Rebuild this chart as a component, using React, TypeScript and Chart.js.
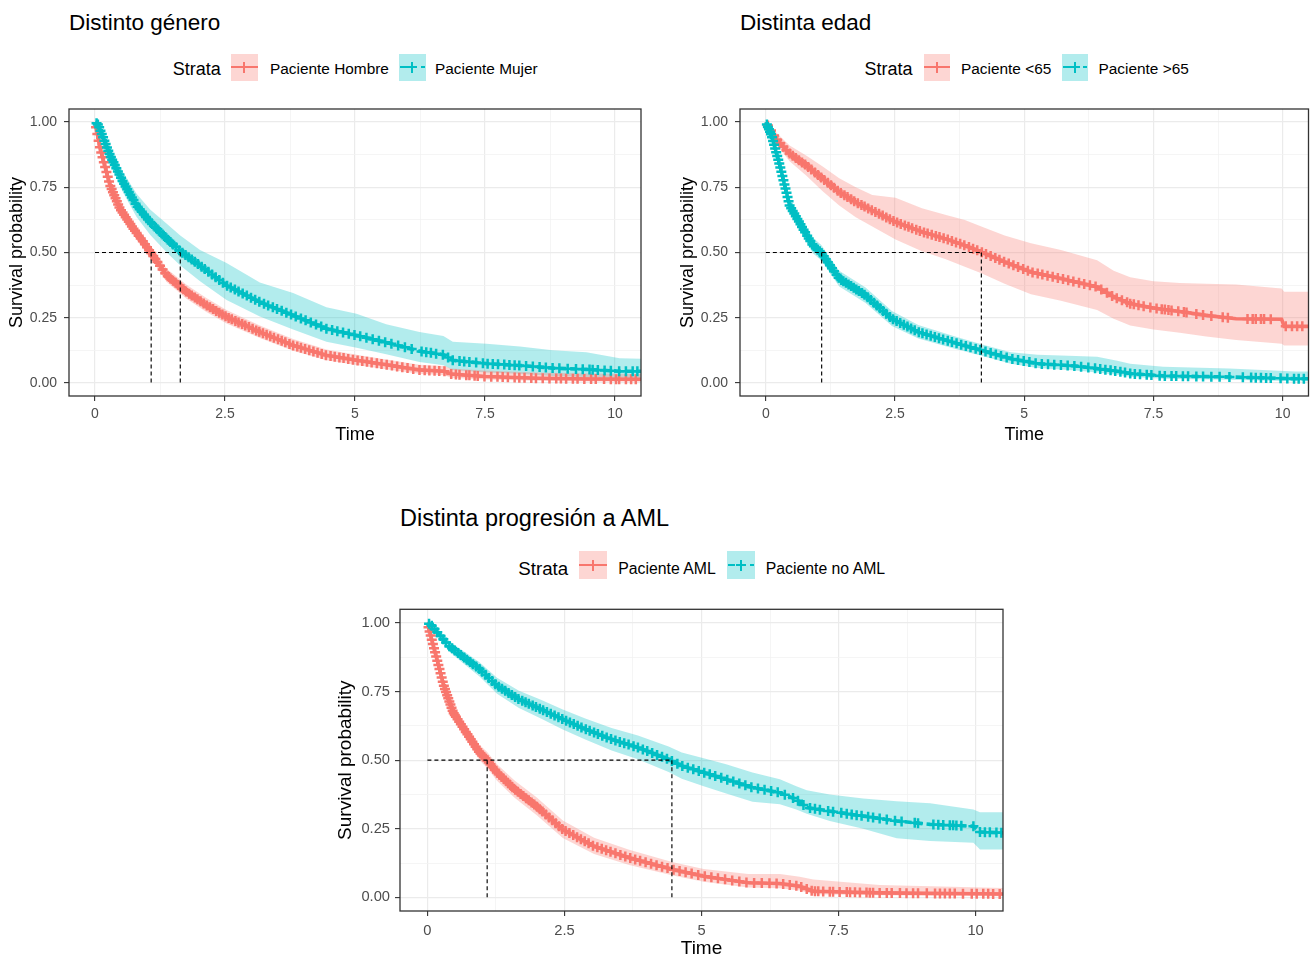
import React, { useEffect, useRef } from 'react';
import { Chart, registerables } from 'chart.js';

Chart.register(...registerables);
Chart.defaults.font.family = '"Liberation Sans", Arial, sans-serif';

const RED = '#F8766D';
const TEAL = '#00BFC4';
const RED_FILL = 'rgba(248,118,109,0.3)';
const TEAL_FILL = 'rgba(0,191,196,0.3)';
const FONT = '"Liberation Sans", Arial, sans-serif';

// ---------- axis ticks ----------
const xTickValues = [0, 1.25, 2.5, 3.75, 5, 6.25, 7.5, 8.75, 10];
const xMajorValues = [0, 2.5, 5, 7.5, 10];
const yTickValues = [0, 0.125, 0.25, 0.375, 0.5, 0.625, 0.75, 0.875, 1];
const yMajorValues = [0, 0.25, 0.5, 0.75, 1];
const xRange = [-0.5, 10.5];
const yRange = [-0.05, 1.05];
const medianLevel = 0.5;

// ---------- Chart 1: Distinto género ----------
const c1RedT = [0, 0.1, 0.29, 0.48, 0.74, 0.93, 1.09, 1.38, 1.76, 2.15, 2.53, 3.17, 3.81, 4.45, 5.03, 5.6, 6.24, 6.72, 6.85, 7.5, 8.5, 9.5, 10.5];
const c1RedS = [1, 0.898, 0.757, 0.668, 0.591, 0.54, 0.495, 0.412, 0.349, 0.297, 0.253, 0.195, 0.144, 0.106, 0.087, 0.07, 0.05, 0.045, 0.034, 0.025, 0.018, 0.015, 0.014];
const c1RedLo = [1, 0.886, 0.74, 0.648, 0.569, 0.517, 0.471, 0.387, 0.323, 0.271, 0.228, 0.172, 0.123, 0.087, 0.069, 0.053, 0.035, 0.03, 0.02, 0.013, 0.008, 0.006, 0.005];
const c1RedHi = [1, 0.91, 0.775, 0.688, 0.613, 0.563, 0.52, 0.438, 0.376, 0.325, 0.28, 0.22, 0.168, 0.128, 0.108, 0.09, 0.07, 0.065, 0.055, 0.048, 0.04, 0.036, 0.034];
const c1RedCens = [0.02, 0.045, 0.07, 0.095, 0.12, 0.145, 0.17, 0.195, 0.22, 0.245, 0.27, 0.295, 0.32, 0.345, 0.37, 0.395, 0.42, 0.445, 0.47, 0.5, 0.53, 0.56, 0.59, 0.62, 0.65, 0.68, 0.71, 0.74, 0.77, 0.8, 0.84, 0.88, 0.92, 0.96, 1.0, 1.04, 1.08, 1.12, 1.16, 1.2, 1.25, 1.3, 1.35, 1.4, 1.45, 1.5, 1.55, 1.6, 1.65, 1.7, 1.75, 1.81, 1.86, 1.92, 1.97, 2.03, 2.09, 2.15, 2.21, 2.27, 2.33, 2.39, 2.45, 2.51, 2.57, 2.63, 2.7, 2.76, 2.83, 2.89, 2.96, 3.03, 3.1, 3.16, 3.23, 3.3, 3.37, 3.44, 3.52, 3.59, 3.66, 3.74, 3.81, 3.89, 3.96, 4.04, 4.12, 4.2, 4.28, 4.36, 4.44, 4.53, 4.61, 4.7, 4.78, 4.87, 4.96, 5.05, 5.14, 5.23, 5.32, 5.42, 5.51, 5.61, 5.71, 5.81, 5.91, 6.01, 6.12, 6.24, 6.34, 6.43, 6.53, 6.62, 6.72, 6.85, 6.94, 7.01, 7.14, 7.2, 7.3, 7.36, 7.49, 7.62, 7.74, 7.84, 7.94, 8.07, 8.16, 8.26, 8.39, 8.48, 8.61, 8.74, 8.87, 8.96, 9.06, 9.19, 9.28, 9.41, 9.54, 9.63, 9.79, 9.92, 10.02, 10.08, 10.21, 10.31, 10.4];

const c1TealT = [0, 0.06, 0.29, 0.54, 0.8, 1.06, 1.38, 1.64, 2.02, 2.53, 3.17, 3.81, 4.45, 5.03, 5.6, 6.24, 6.7, 6.88, 7.53, 8.17, 8.8, 9.45, 10.09, 10.5];
const c1TealS = [1, 0.99, 0.872, 0.77, 0.68, 0.617, 0.553, 0.505, 0.45, 0.374, 0.31, 0.259, 0.208, 0.182, 0.155, 0.122, 0.108, 0.087, 0.074, 0.067, 0.057, 0.052, 0.045, 0.045];
const c1TealLo = [1, 0.975, 0.838, 0.73, 0.636, 0.568, 0.5, 0.45, 0.39, 0.318, 0.255, 0.205, 0.158, 0.135, 0.11, 0.08, 0.068, 0.05, 0.04, 0.035, 0.027, 0.023, 0.018, 0.018];
const c1TealHi = [1, 1, 0.905, 0.808, 0.725, 0.665, 0.61, 0.565, 0.51, 0.46, 0.385, 0.345, 0.29, 0.265, 0.225, 0.195, 0.18, 0.158, 0.15, 0.14, 0.125, 0.118, 0.095, 0.093];
const c1TealCens = [0.03, 0.055, 0.08, 0.105, 0.13, 0.155, 0.18, 0.205, 0.23, 0.255, 0.28, 0.305, 0.33, 0.355, 0.38, 0.41, 0.44, 0.47, 0.5, 0.53, 0.56, 0.59, 0.62, 0.65, 0.68, 0.71, 0.74, 0.78, 0.82, 0.86, 0.9, 0.94, 0.98, 1.02, 1.06, 1.1, 1.15, 1.2, 1.25, 1.3, 1.35, 1.4, 1.45, 1.5, 1.56, 1.62, 1.68, 1.74, 1.8, 1.86, 1.92, 1.98, 2.05, 2.11, 2.18, 2.25, 2.32, 2.39, 2.46, 2.54, 2.61, 2.69, 2.76, 2.84, 2.92, 3.0, 3.08, 3.16, 3.25, 3.33, 3.42, 3.5, 3.59, 3.68, 3.77, 3.86, 3.96, 4.05, 4.15, 4.25, 4.35, 4.45, 4.56, 4.66, 4.77, 4.88, 4.99, 5.1, 5.22, 5.34, 5.46, 5.58, 5.7, 5.83, 5.96, 6.09, 6.28, 6.37, 6.46, 6.56, 6.69, 6.79, 6.88, 7.01, 7.1, 7.2, 7.33, 7.46, 7.55, 7.65, 7.75, 7.87, 7.97, 8.07, 8.16, 8.29, 8.42, 8.55, 8.67, 8.8, 8.93, 9.09, 9.25, 9.38, 9.51, 9.57, 9.67, 9.8, 9.92, 10.08, 10.21, 10.34, 10.43];
const c1Medians = [1.08, 1.64];

// ---------- Chart 2: Distinta edad ----------
const c2RedT = [0, 0.2, 0.46, 0.78, 1.1, 1.42, 1.74, 2.06, 2.51, 3.02, 3.47, 3.85, 4.17, 4.62, 5.13, 5.71, 6.41, 6.73, 7.05, 7.5, 8.01, 8.52, 9.1, 9.98, 10.03, 10.5];
const c2RedS = [1, 0.936, 0.879, 0.834, 0.783, 0.732, 0.693, 0.661, 0.617, 0.579, 0.553, 0.527, 0.502, 0.464, 0.425, 0.4, 0.368, 0.33, 0.304, 0.287, 0.274, 0.259, 0.246, 0.244, 0.217, 0.217];
const c2RedLo = [1, 0.915, 0.85, 0.795, 0.735, 0.68, 0.635, 0.6, 0.55, 0.505, 0.475, 0.445, 0.42, 0.38, 0.34, 0.315, 0.28, 0.246, 0.22, 0.205, 0.192, 0.178, 0.165, 0.15, 0.144, 0.144];
const c2RedHi = [1, 0.96, 0.91, 0.872, 0.83, 0.785, 0.75, 0.72, 0.71, 0.67, 0.645, 0.625, 0.6, 0.565, 0.535, 0.51, 0.47, 0.43, 0.405, 0.39, 0.383, 0.38, 0.377, 0.362, 0.35, 0.35];
const c2RedCens = [0.04, 0.1, 0.16, 0.22, 0.28, 0.34, 0.4, 0.46, 0.52, 0.58, 0.64, 0.7, 0.76, 0.82, 0.88, 0.95, 1.01, 1.07, 1.13, 1.2, 1.26, 1.32, 1.39, 1.45, 1.52, 1.58, 1.65, 1.71, 1.78, 1.85, 1.91, 1.98, 2.05, 2.12, 2.19, 2.26, 2.33, 2.4, 2.47, 2.54, 2.61, 2.69, 2.76, 2.83, 2.91, 2.98, 3.06, 3.13, 3.21, 3.29, 3.36, 3.44, 3.52, 3.6, 3.68, 3.76, 3.84, 3.93, 4.01, 4.09, 4.18, 4.26, 4.35, 4.44, 4.52, 4.61, 4.7, 4.79, 4.88, 4.98, 5.07, 5.16, 5.26, 5.35, 5.45, 5.55, 5.65, 5.75, 5.85, 5.95, 6.06, 6.16, 6.27, 6.38, 6.49, 6.6, 6.7, 6.79, 6.89, 6.99, 7.05, 7.12, 7.21, 7.31, 7.44, 7.56, 7.66, 7.72, 7.79, 7.85, 7.98, 8.09, 8.14, 8.33, 8.46, 8.62, 8.84, 8.94, 9.32, 9.42, 9.48, 9.58, 9.64, 9.77, 10.06, 10.18, 10.28, 10.38];

const c2TealT = [0, 0.11, 0.27, 0.46, 0.72, 0.91, 1.07, 1.42, 1.93, 2.44, 2.95, 3.6, 4.17, 4.74, 5.26, 6.0, 6.41, 6.8, 7.05, 7.69, 8.97, 10.25, 10.5];
const c2TealS = [1, 0.949, 0.834, 0.68, 0.591, 0.527, 0.5, 0.4, 0.336, 0.246, 0.195, 0.157, 0.125, 0.093, 0.074, 0.065, 0.055, 0.045, 0.036, 0.027, 0.023, 0.016, 0.016];
const c2TealLo = [1, 0.935, 0.81, 0.652, 0.562, 0.497, 0.47, 0.37, 0.306, 0.218, 0.17, 0.134, 0.104, 0.074, 0.057, 0.048, 0.04, 0.031, 0.024, 0.016, 0.012, 0.007, 0.007];
const c2TealHi = [1, 0.963, 0.858, 0.708, 0.62, 0.557, 0.53, 0.43, 0.366, 0.276, 0.222, 0.182, 0.148, 0.118, 0.108, 0.103, 0.1, 0.085, 0.074, 0.062, 0.055, 0.044, 0.044];
const c2TealCens = [0.02, 0.04, 0.06, 0.08, 0.1, 0.12, 0.14, 0.16, 0.18, 0.2, 0.22, 0.24, 0.26, 0.28, 0.3, 0.32, 0.34, 0.36, 0.38, 0.4, 0.42, 0.44, 0.46, 0.49, 0.52, 0.55, 0.58, 0.61, 0.64, 0.67, 0.7, 0.73, 0.76, 0.8, 0.83, 0.86, 0.9, 0.93, 0.97, 1.0, 1.04, 1.08, 1.12, 1.16, 1.2, 1.24, 1.28, 1.32, 1.37, 1.41, 1.46, 1.5, 1.55, 1.6, 1.65, 1.7, 1.75, 1.8, 1.86, 1.91, 1.97, 2.03, 2.09, 2.15, 2.21, 2.27, 2.33, 2.4, 2.46, 2.53, 2.6, 2.67, 2.74, 2.81, 2.88, 2.96, 3.03, 3.11, 3.19, 3.27, 3.35, 3.43, 3.52, 3.6, 3.69, 3.78, 3.87, 3.96, 4.06, 4.15, 4.25, 4.35, 4.45, 4.55, 4.66, 4.77, 4.88, 4.99, 5.1, 5.22, 5.34, 5.46, 5.58, 5.71, 5.84, 5.97, 6.1, 6.24, 6.37, 6.47, 6.57, 6.67, 6.76, 6.86, 6.95, 7.05, 7.14, 7.24, 7.37, 7.46, 7.62, 7.72, 7.85, 7.94, 8.07, 8.17, 8.33, 8.46, 8.62, 8.78, 8.97, 9.23, 9.39, 9.48, 9.58, 9.68, 9.77, 9.96, 10.09, 10.22, 10.31, 10.41];
const c2Medians = [4.17, 1.08];

// ---------- Chart 3: Distinta progresión a AML ----------
const c3RedT = [0, 0.14, 0.3, 0.47, 0.71, 0.95, 1.09, 1.27, 1.59, 1.99, 2.47, 3.04, 3.68, 4.48, 5.04, 5.85, 6.43, 6.79, 7.04, 8.25, 10.5];
const c3RedS = [1, 0.893, 0.771, 0.674, 0.6, 0.528, 0.5, 0.455, 0.394, 0.332, 0.247, 0.186, 0.144, 0.101, 0.077, 0.053, 0.05, 0.04, 0.022, 0.016, 0.012];
const c3RedLo = [1, 0.878, 0.75, 0.65, 0.574, 0.5, 0.471, 0.425, 0.363, 0.3, 0.216, 0.158, 0.118, 0.079, 0.057, 0.036, 0.033, 0.025, 0.011, 0.007, 0.004];
const c3RedHi = [1, 0.908, 0.792, 0.698, 0.627, 0.556, 0.53, 0.485, 0.426, 0.365, 0.28, 0.217, 0.173, 0.128, 0.103, 0.085, 0.085, 0.075, 0.065, 0.045, 0.034];
const c3RedCens = [0.02, 0.04, 0.06, 0.08, 0.1, 0.12, 0.14, 0.16, 0.18, 0.2, 0.22, 0.24, 0.26, 0.28, 0.3, 0.32, 0.34, 0.36, 0.38, 0.4, 0.42, 0.44, 0.46, 0.48, 0.5, 0.52, 0.55, 0.58, 0.61, 0.64, 0.67, 0.7, 0.73, 0.76, 0.79, 0.82, 0.85, 0.88, 0.91, 0.94, 0.97, 1.0, 1.03, 1.06, 1.09, 1.12, 1.15, 1.19, 1.23, 1.27, 1.31, 1.35, 1.39, 1.43, 1.47, 1.51, 1.55, 1.6, 1.65, 1.7, 1.75, 1.8, 1.85, 1.9, 1.95, 2.0, 2.05, 2.1, 2.16, 2.22, 2.28, 2.34, 2.4, 2.46, 2.52, 2.59, 2.66, 2.73, 2.8, 2.87, 2.94, 3.02, 3.1, 3.18, 3.26, 3.34, 3.43, 3.52, 3.61, 3.7, 3.79, 3.88, 3.98, 4.08, 4.18, 4.28, 4.38, 4.49, 4.6, 4.71, 4.82, 4.94, 5.06, 5.18, 5.3, 5.43, 5.56, 5.69, 5.82, 5.96, 6.1, 6.24, 6.37, 6.49, 6.61, 6.73, 6.82, 6.92, 7.01, 7.07, 7.13, 7.22, 7.34, 7.4, 7.52, 7.65, 7.71, 7.8, 7.89, 8.01, 8.07, 8.13, 8.25, 8.38, 8.47, 8.62, 8.74, 8.86, 8.95, 9.11, 9.26, 9.35, 9.44, 9.53, 9.62, 9.77, 9.93, 10.02, 10.14, 10.23, 10.32, 10.44];

const c3TealT = [0, 0.06, 0.39, 0.63, 0.95, 1.27, 1.67, 2.07, 2.47, 2.88, 3.36, 3.84, 4.4, 4.64, 5.04, 5.45, 5.93, 6.43, 6.73, 6.92, 7.34, 7.95, 8.56, 9.17, 9.96, 10.08, 10.5];
const c3TealS = [1, 0.995, 0.917, 0.88, 0.832, 0.771, 0.722, 0.686, 0.649, 0.613, 0.576, 0.546, 0.503, 0.479, 0.455, 0.43, 0.4, 0.381, 0.357, 0.327, 0.314, 0.296, 0.278, 0.266, 0.259, 0.238, 0.235];
const c3TealLo = [1, 0.985, 0.897, 0.857, 0.805, 0.742, 0.69, 0.652, 0.612, 0.575, 0.535, 0.503, 0.457, 0.432, 0.405, 0.378, 0.348, 0.339, 0.32, 0.305, 0.278, 0.25, 0.215, 0.205, 0.199, 0.174, 0.174];
const c3TealHi = [1, 1, 0.935, 0.902, 0.857, 0.8, 0.753, 0.72, 0.685, 0.652, 0.617, 0.59, 0.55, 0.528, 0.507, 0.485, 0.455, 0.43, 0.405, 0.39, 0.375, 0.36, 0.35, 0.343, 0.32, 0.31, 0.31];
const c3TealCens = [0.03, 0.08, 0.13, 0.18, 0.24, 0.29, 0.34, 0.4, 0.45, 0.5, 0.56, 0.61, 0.67, 0.72, 0.78, 0.83, 0.89, 0.95, 1.0, 1.06, 1.12, 1.18, 1.24, 1.3, 1.36, 1.42, 1.48, 1.54, 1.6, 1.66, 1.73, 1.79, 1.85, 1.92, 1.98, 2.05, 2.11, 2.18, 2.25, 2.32, 2.39, 2.46, 2.53, 2.6, 2.67, 2.74, 2.81, 2.89, 2.96, 3.04, 3.11, 3.19, 3.27, 3.35, 3.43, 3.51, 3.59, 3.67, 3.76, 3.84, 3.93, 4.01, 4.1, 4.19, 4.28, 4.37, 4.46, 4.56, 4.65, 4.75, 4.85, 4.95, 5.05, 5.15, 5.25, 5.36, 5.47, 5.58, 5.69, 5.8, 5.91, 6.03, 6.15, 6.27, 6.39, 6.52, 6.67, 6.76, 6.86, 6.98, 7.07, 7.16, 7.31, 7.4, 7.55, 7.65, 7.74, 7.83, 7.92, 8.04, 8.13, 8.25, 8.38, 8.53, 8.65, 8.89, 8.95, 9.23, 9.32, 9.41, 9.53, 9.59, 9.65, 9.74, 9.96, 10.08, 10.17, 10.26, 10.38, 10.47];
const c3Medians = [1.09, 4.46];

// ---------- helpers ----------
type Curve = { t: number[]; s: number[]; lo: number[]; hi: number[]; cens: number[] };

function pts(ts: number[], vs: number[]) {
  return ts.map((t, i) => ({ x: t, y: vs[i] }));
}

function valueAt(ts: number[], ss: number[], t: number) {
  for (let i = 1; i < ts.length; i++) {
    if (t <= ts[i]) {
      const f = (t - ts[i - 1]) / (ts[i] - ts[i - 1]);
      return ss[i - 1] + f * (ss[i] - ss[i - 1]);
    }
  }
  return ss[ss.length - 1];
}

function near(list: number[], v: number) {
  return list.some((m) => Math.abs(m - v) < 1e-6);
}

const panelBorder = {
  id: 'panelBorder',
  afterDatasetsDraw(chart: any) {
    const { ctx, chartArea: a } = chart;
    ctx.save();
    ctx.strokeStyle = '#333333';
    ctx.lineWidth = 1.3;
    ctx.strokeRect(a.left, a.top, a.right - a.left, a.bottom - a.top);
    ctx.restore();
  },
};

interface Spec {
  left: number; top: number; width: number; height: number;
  yAxisWidth: number; xAxisHeight: number; padTop: number; padRight: number;
  tickFont: number; titleFont: number; yLabelPad: number; xLabelPad: number;
  yTitlePad: number; xTitlePad: number;
  red: Curve; teal: Curve; medians: number[];
}

function gridOpts(majors: number[]) {
  return {
    color: (c: any) => (c.tick && near(majors, c.tick.value) ? '#EBEBEB' : '#F3F3F3'),
    lineWidth: (c: any) => (c.tick && near(majors, c.tick.value) ? 1.2 : 0.8),
    tickColor: (c: any) => (c.tick && near(majors, c.tick.value) ? '#333333' : 'rgba(0,0,0,0)'),
    tickWidth: 1.1,
    tickLength: 5,
    drawTicks: true,
  };
}

function buildDatasets(spec: Spec) {
  const ribbon = (c: Curve, fillColor: string) => [
    { data: pts(c.t, c.hi), fill: '+1', backgroundColor: fillColor, borderColor: 'rgba(0,0,0,0)', borderWidth: 0, pointRadius: 0, order: 10, clip: 0 },
    { data: pts(c.t, c.lo), fill: false, borderColor: 'rgba(0,0,0,0)', borderWidth: 0, pointRadius: 0, order: 10, clip: 0 },
  ];
  const line = (c: Curve, color: string, dash: number[], order: number) => ({
    data: pts(c.t, c.s), borderColor: color, borderWidth: 3.6, borderDash: dash, pointRadius: 0, fill: false, order, clip: 0,
  });
  const cens = (c: Curve, color: string, order: number) => ({
    data: c.cens.map((t) => ({ x: t, y: valueAt(c.t, c.s, t) })),
    showLine: false, pointStyle: 'cross', pointRadius: 5, pointBorderWidth: 2.5,
    pointBorderColor: color, borderColor: color, backgroundColor: color, order, clip: 0,
  });
  const maxMed = Math.max(...spec.medians);
  const dashed = { borderColor: '#000000', borderWidth: 1.15, borderDash: [4, 3], pointRadius: 0, fill: false, order: 1, clip: 0 };
  const medianSets = [
    { ...dashed, data: [{ x: 0, y: medianLevel }, { x: maxMed, y: medianLevel }] },
    ...spec.medians.map((m) => ({ ...dashed, data: [{ x: m, y: medianLevel }, { x: m, y: 0 }] })),
  ];
  return [
    ...ribbon(spec.red, RED_FILL),
    ...ribbon(spec.teal, TEAL_FILL),
    line(spec.red, RED, [], 8),
    line(spec.teal, TEAL, [7, 4], 7),
    cens(spec.red, RED, 6),
    cens(spec.teal, TEAL, 5),
    ...medianSets,
  ];
}

function KMChart({ spec }: { spec: Spec }) {
  const ref = useRef<HTMLCanvasElement>(null);
  useEffect(() => {
    const canvas = ref.current;
    if (!canvas) return;
    const chart = new Chart(canvas, {
      type: 'line',
      data: { datasets: buildDatasets(spec) as any },
      plugins: [panelBorder],
      options: {
        responsive: false,
        animation: false,
        events: [],
        layout: { padding: { top: spec.padTop, right: spec.padRight, left: 0, bottom: 0 } },
        plugins: { legend: { display: false }, tooltip: { enabled: false } },
        scales: {
          x: {
            type: 'linear',
            min: xRange[0],
            max: xRange[1],
            afterBuildTicks: (s: any) => { s.ticks = xTickValues.map((v) => ({ value: v })); },
            afterFit: (s: any) => { s.height = spec.xAxisHeight; },
            border: { display: false },
            grid: gridOpts(xMajorValues) as any,
            ticks: {
              autoSkip: false, maxRotation: 0, color: '#4D4D4D', padding: spec.xLabelPad,
              font: { size: spec.tickFont, family: FONT },
              callback: (v: any) => (near(xMajorValues, Number(v)) ? String(Number(v)) : ''),
            },
            title: {
              display: true, text: 'Time', color: '#000000',
              font: { size: spec.titleFont, family: FONT, lineHeight: 1 },
              padding: { top: 0, bottom: spec.xTitlePad },
            },
          },
          y: {
            type: 'linear',
            min: yRange[0],
            max: yRange[1],
            afterBuildTicks: (s: any) => { s.ticks = yTickValues.map((v) => ({ value: v })); },
            afterFit: (s: any) => { s.width = spec.yAxisWidth; },
            border: { display: false },
            grid: gridOpts(yMajorValues) as any,
            ticks: {
              autoSkip: false, color: '#4D4D4D', padding: spec.yLabelPad,
              font: { size: spec.tickFont, family: FONT },
              callback: (v: any) => (near(yMajorValues, Number(v)) ? Number(v).toFixed(2) : ''),
            },
            title: {
              display: true, text: 'Survival probability', color: '#000000',
              font: { size: spec.titleFont, family: FONT, lineHeight: 1 },
              padding: { top: spec.yTitlePad, bottom: 0 },
            },
          },
        },
      } as any,
    });
    return () => chart.destroy();
  }, []);
  return (
    <canvas
      ref={ref}
      width={spec.width}
      height={spec.height}
      style={{ position: 'absolute', left: spec.left, top: spec.top, width: spec.width, height: spec.height }}
    />
  );
}

function Text({ text, left, capCenter, size, color = '#000' }: { text: string; left: number; capCenter: number; size: number; color?: string }) {
  return (
    <div
      style={{
        position: 'absolute', left, top: capCenter - 0.4885 * size, fontFamily: FONT, fontSize: size,
        lineHeight: `${size}px`, whiteSpace: 'nowrap', color,
      }}
    >
      {text}
    </div>
  );
}

function Swatch({ left, top, w, h, color, fill, dashed }: { left: number; top: number; w: number; h: number; color: string; fill: string; dashed: boolean }) {
  const lw = 2.4;
  const cy = h / 2 - lw / 2;
  const seg = (l: number, r: number, key: string) => (
    <div key={key} style={{ position: 'absolute', left: l, width: r - l, top: cy, height: lw, background: color }} />
  );
  return (
    <div style={{ position: 'absolute', left, top, width: w, height: h, background: fill }}>
      {dashed
        ? [seg(1, 8, 'a'), seg(w / 2 - 5, w / 2 + 5, 'b'), seg(w - 5, w - 1, 'c')]
        : [seg(0, w, 'a')]}
      <div style={{ position: 'absolute', left: w / 2 - lw / 2, width: lw, top: h / 2 - 5.5, height: 11, background: color }} />
    </div>
  );
}

// Chart.js reserves (tick label half-height + label padding) above the y axis,
// so the canvases start that much above the panel tops.
const spec1: Spec = {
  left: 0, top: 93, width: 650, height: 357,
  yAxisWidth: 69, xAxisHeight: 54, padTop: 16, padRight: 9,
  tickFont: 14, titleFont: 18, yLabelPad: 7, xLabelPad: 4.5, yTitlePad: 8, xTitlePad: 6,
  red: { t: c1RedT, s: c1RedS, lo: c1RedLo, hi: c1RedHi, cens: c1RedCens },
  teal: { t: c1TealT, s: c1TealS, lo: c1TealLo, hi: c1TealHi, cens: c1TealCens },
  medians: c1Medians,
};

const spec2: Spec = {
  left: 671, top: 93, width: 645, height: 357,
  yAxisWidth: 69, xAxisHeight: 54, padTop: 16, padRight: 4,
  tickFont: 14, titleFont: 18, yLabelPad: 7, xLabelPad: 4.5, yTitlePad: 8, xTitlePad: 6,
  red: { t: c2RedT, s: c2RedS, lo: c2RedLo, hi: c2RedHi, cens: c2RedCens },
  teal: { t: c2TealT, s: c2TealS, lo: c2TealLo, hi: c2TealHi, cens: c2TealCens },
  medians: c2Medians,
};

const spec3: Spec = {
  left: 329, top: 595, width: 684, height: 365,
  yAxisWidth: 71, xAxisHeight: 49, padTop: 14.3, padRight: 10,
  tickFont: 14.7, titleFont: 19, yLabelPad: 5, xLabelPad: 6, yTitlePad: 7.5, xTitlePad: 1.5,
  red: { t: c3RedT, s: c3RedS, lo: c3RedLo, hi: c3RedHi, cens: c3RedCens },
  teal: { t: c3TealT, s: c3TealS, lo: c3TealLo, hi: c3TealHi, cens: c3TealCens },
  medians: c3Medians,
};

export default function App() {
  return (
    <div style={{ position: 'fixed', left: 0, top: 0, width: 1316, height: 958, overflow: 'hidden', background: '#ffffff' }}>
      {/* Chart 1 */}
      <Text text="Distinto género" left={69} capCenter={23} size={22.5} />
      <Text text="Strata" left={172.7} capCenter={68.5} size={18} />
      <Swatch left={231} top={53.5} w={26.5} h={27} color={RED} fill={RED_FILL} dashed={false} />
      <Text text="Paciente Hombre" left={270} capCenter={68.5} size={15.4} />
      <Swatch left={399} top={53.5} w={26.5} h={27} color={TEAL} fill={TEAL_FILL} dashed={true} />
      <Text text="Paciente Mujer" left={435} capCenter={68.5} size={15.4} />
      <KMChart spec={spec1} />

      {/* Chart 2 */}
      <Text text="Distinta edad" left={740} capCenter={23} size={22.5} />
      <Text text="Strata" left={864.5} capCenter={68.5} size={18} />
      <Swatch left={923.5} top={53.5} w={26.5} h={27} color={RED} fill={RED_FILL} dashed={false} />
      <Text text="Paciente <65" left={961} capCenter={68.5} size={15.4} />
      <Swatch left={1061.5} top={53.5} w={26.5} h={27} color={TEAL} fill={TEAL_FILL} dashed={true} />
      <Text text="Paciente >65" left={1098.5} capCenter={68.5} size={15.4} />
      <KMChart spec={spec2} />

      {/* Chart 3 */}
      <Text text="Distinta progresión a AML" left={400} capCenter={518.3} size={23.5} />
      <Text text="Strata" left={518.3} capCenter={569} size={18.7} />
      <Swatch left={579} top={551} w={27.7} h={28.3} color={RED} fill={RED_FILL} dashed={false} />
      <Text text="Paciente AML" left={618.3} capCenter={569} size={15.8} />
      <Swatch left={727.3} top={551} w={27.7} h={28.3} color={TEAL} fill={TEAL_FILL} dashed={true} />
      <Text text="Paciente no AML" left={765.7} capCenter={569} size={15.8} />
      <KMChart spec={spec3} />
    </div>
  );
}
